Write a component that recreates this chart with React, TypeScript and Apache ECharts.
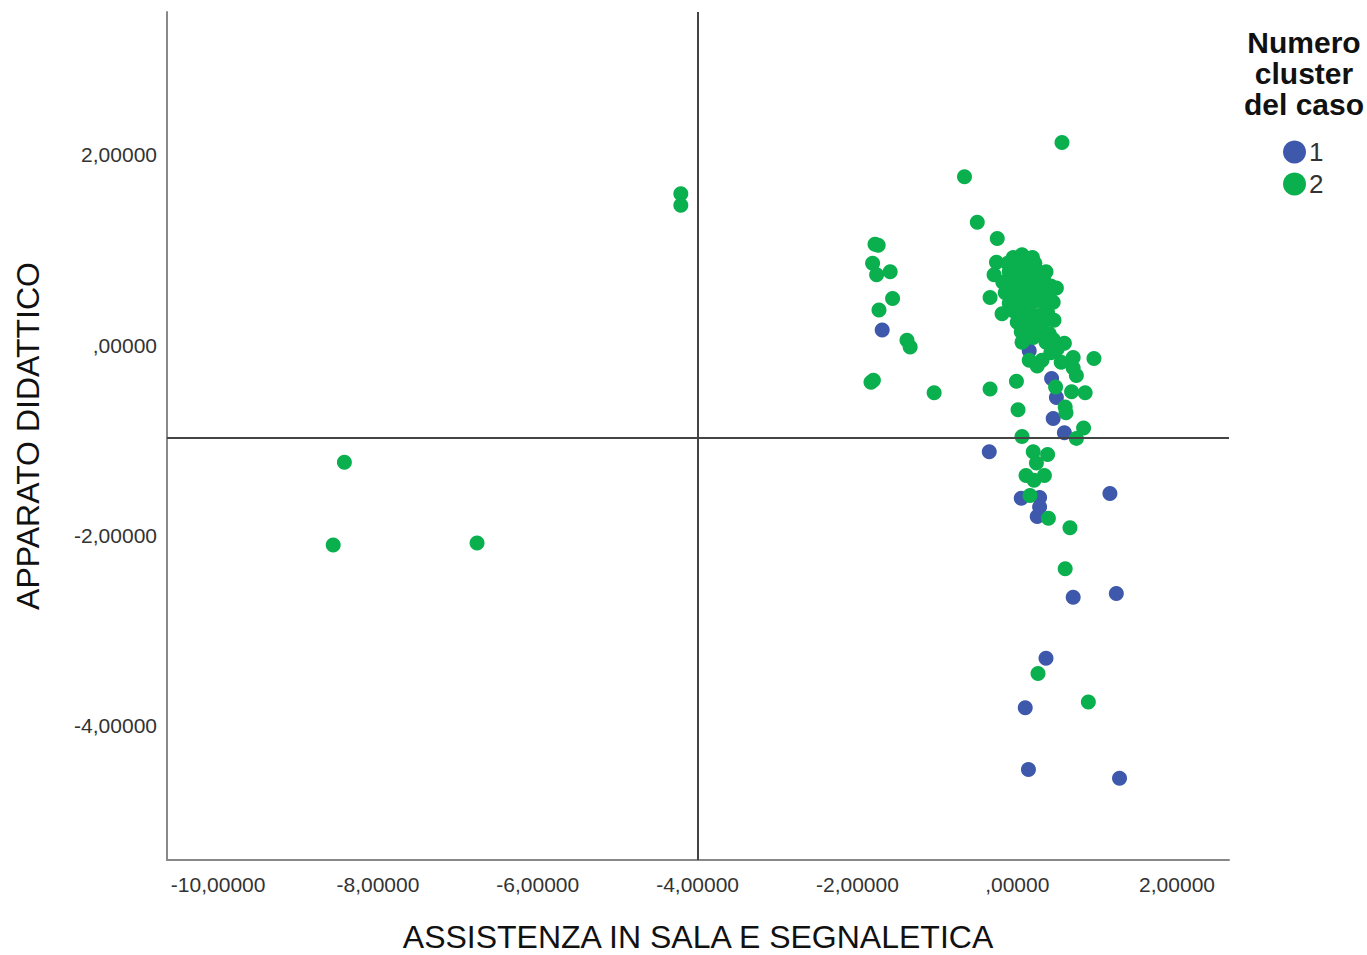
import React, { useEffect, useRef } from "react";
import * as echarts from "echarts";

const xTicks = [-10, -8, -6, -4, -2, 0, 2];
const yTicks = [-4, -2, 0, 2];
const legendTitle = ["Numero", "cluster", "del caso"];

const cluster1: number[][] = [
  [-1.69, 0.16], [0.15, -0.06], [0.43, -0.35], [0.49, -0.55], [0.45, -0.77],
  [0.59, -0.92], [-0.35, -1.12], [0.05, -1.61], [0.28, -1.6], [0.28, -1.7],
  [0.25, -1.8], [1.16, -1.56], [0.7, -2.65], [1.24, -2.61], [0.36, -3.29],
  [0.1, -3.81], [0.14, -4.46], [1.28, -4.55],
];

const cluster2: number[][] = [
  [-8.42, -1.23], [-8.56, -2.1], [-6.76, -2.08], [-4.21, 1.59], [-4.21, 1.47],
  [0.56, 2.13], [-0.66, 1.77], [-0.5, 1.29], [-0.25, 1.12],
  [-1.74, 1.05], [-1.78, 1.06], [-1.81, 0.86], [-1.76, 0.74], [-1.59, 0.77],
  [-1.56, 0.49], [-1.73, 0.37], [-1.38, 0.05], [-1.34, -0.02], [-1.83, -0.39],
  [-1.8, -0.37], [-1.04, -0.5],
  [-0.34, 0.5], [-0.34, -0.46], [-0.01, -0.38], [0.01, -0.68], [0.06, -0.96],
  [0.2, -1.12], [0.38, -1.15], [0.24, -1.24], [0.11, -1.37], [0.34, -1.37], [0.21, -1.42],
  [0.48, -0.44], [0.6, -0.65], [0.61, -0.71], [0.74, -0.98], [0.83, -0.87],
  [0.68, -0.49], [0.85, -0.5], [0.74, -0.32], [0.7, -0.24], [0.7, -0.13],
  [0.96, -0.14], [0.59, 0.02], [0.55, -0.18], [0.31, -0.16], [0.25, -0.22],
  [0.15, -0.16], [0.06, 0.03], [0.36, 0.03], [0.42, -0.08], [0.5, -0.04],
  [0.16, -1.58], [0.39, -1.82], [0.66, -1.92], [0.6, -2.35], [0.26, -3.45], [0.89, -3.75],
  // dense cluster
  [-0.05, 0.92], [0.06, 0.95], [0.15, 0.91], [0.19, 0.92],
  [-0.26, 0.87], [-0.12, 0.86], [0.0, 0.88], [0.1, 0.84], [0.22, 0.86], [0.36, 0.77],
  [-0.29, 0.74], [-0.1, 0.77], [0.02, 0.74], [0.12, 0.76], [0.25, 0.73], [0.33, 0.72],
  [-0.18, 0.66], [-0.05, 0.64], [0.05, 0.67], [0.15, 0.62], [0.28, 0.65], [0.42, 0.62], [0.49, 0.6],
  [-0.15, 0.55], [-0.02, 0.53], [0.08, 0.56], [0.18, 0.52], [0.3, 0.55], [0.4, 0.52],
  [-0.1, 0.44], [0.0, 0.47], [0.1, 0.42], [0.22, 0.46], [0.35, 0.43], [0.45, 0.45],
  [-0.19, 0.33], [-0.05, 0.36], [0.05, 0.32], [0.15, 0.35], [0.27, 0.31], [0.38, 0.34],
  [0.0, 0.24], [0.1, 0.22], [0.2, 0.27], [0.32, 0.23], [0.46, 0.26],
  [0.05, 0.14], [0.18, 0.13], [0.3, 0.15], [0.4, 0.12],
  [0.08, 0.05], [0.2, 0.08], [0.45, 0.06],
];

const refX = -4;
const refY = -0.97;

const fmt = (v: number) => {
  if (Math.abs(v) < 1e-9) return ",00000";
  return v.toFixed(5).replace(".", ",");
};

const FONT = "'Liberation Sans', Arial, sans-serif";
const BLUE = "#3E58AC";
const GREEN = "#0AAF4E";

export default function App() {
  const ref = useRef<HTMLDivElement>(null);
  useEffect(() => {
    if (!ref.current) return;
    const chart = echarts.init(ref.current, null, { renderer: "svg" });
    chart.setOption({
      animation: false,
      backgroundColor: "#fff",
      textStyle: { fontFamily: FONT },
      grid: { left: 167, right: 138, top: 12, bottom: 95, outerBoundsMode: "none", containLabel: false },
      xAxis: {
        type: "value",
        min: -10.64,
        max: 2.65,
        name: "ASSISTENZA IN SALA E SEGNALETICA",
        nameLocation: "middle",
        nameGap: 61,
        nameTextStyle: { fontSize: 32, lineHeight: 32, color: "#111", fontFamily: FONT },
        axisLine: { show: true, onZero: false, lineStyle: { color: "#888", width: 2 } },
        axisTick: { show: false },
        splitLine: { show: false },
        axisLabel: {
          customValues: xTicks,
          formatter: fmt,
          fontSize: 21,
          color: "#333",
          margin: 14,
          fontFamily: FONT,
        },
      },
      yAxis: {
        type: "value",
        min: -5.41,
        max: 3.5,
        name: "APPARATO DIDATTICO",
        nameLocation: "middle",
        nameGap: 123,
        nameTextStyle: { fontSize: 32, color: "#111", fontFamily: FONT },
        axisLine: { show: true, onZero: false, lineStyle: { color: "#888", width: 2 } },
        axisTick: { show: false },
        splitLine: { show: false },
        axisLabel: {
          customValues: yTicks,
          formatter: fmt,
          fontSize: 21,
          color: "#333",
          margin: 10,
          fontFamily: FONT,
        },
      },
      legend: {
        orient: "vertical",
        left: 1278,
        top: 134,
        icon: "circle",
        itemWidth: 23,
        itemHeight: 23,
        itemGap: 6,
        textStyle: { fontSize: 26, color: "#333", lineHeight: 23, fontFamily: FONT, padding: [0, 0, 0, -2] },
        data: ["1", "2"],
      },
      graphic: legendTitle.map((t, i) => ({
        type: "text",
        x: 1304,
        y: 27 + i * 31,
        style: {
          text: t,
          font: `bold 30px ${FONT}`,
          fill: "#111",
          align: "center",
          verticalAlign: "top",
        },
      })),
      series: [
        {
          name: "1",
          type: "scatter",
          data: cluster1,
          symbolSize: 15,
          itemStyle: { color: BLUE, opacity: 1 },
          z: 2,
        },
        {
          name: "2",
          type: "scatter",
          data: cluster2,
          symbolSize: 15,
          itemStyle: { color: GREEN, opacity: 1 },
          z: 3,
          markLine: {
            silent: true,
            symbol: "none",
            label: { show: false },
            lineStyle: { color: "#444", width: 2, type: "solid" },
            data: [{ xAxis: refX }, { yAxis: refY }],
            z: 5,
          },
        },
      ],
    });
    return () => chart.dispose();
  }, []);
  return (
    <div
      ref={ref}
      style={{ position: "absolute", left: 0, top: 0, width: 1367, height: 955 }}
    />
  );
}
